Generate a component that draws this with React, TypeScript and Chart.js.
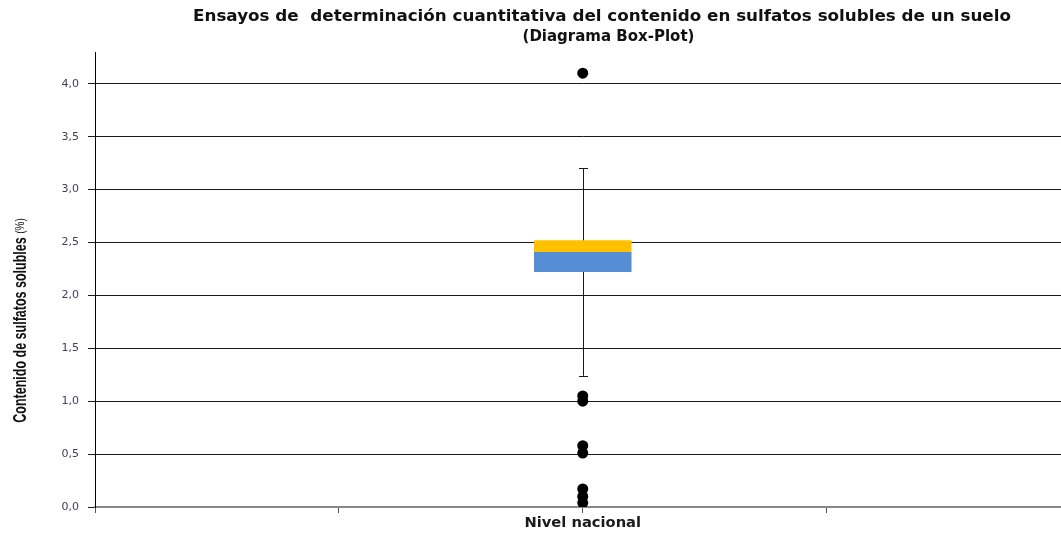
import React, { useEffect, useRef } from "react";
import { Chart, registerables } from "chart.js";

Chart.register(...registerables);

// ---- data ----
const categories = ["", "", "Nivel nacional", "", ""];
const boxCategory = "Nivel nacional";
const q1 = 2.22;
const median = 2.41;
const q3 = 2.52;
const whiskerLow = 1.24;
const whiskerHigh = 3.2;
const outliers = [4.1, 1.05, 1.0, 0.58, 0.51, 0.17, 0.1, 0.04];
const yTicks = [0, 0.5, 1.0, 1.5, 2.0, 2.5, 3.0, 3.5, 4.0];
const yMax = 4.3;

const titleLines = [
  "Ensayos de  determinación cuantitativa del contenido en sulfatos solubles de un suelo",
  "(Diagrama Box-Plot)",
];
const yTitle = "Contenido de sulfatos solubles";
const yUnit = "(%)";

const whiskerPlugin = {
  id: "whiskers",
  beforeDatasetsDraw(chart: any) {
    const xs = chart.scales.x;
    const ys = chart.scales.y;
    const x = Math.round(xs.getPixelForValue(categories.indexOf(boxCategory))) + 0.5;
    const yTop = ys.getPixelForValue(whiskerHigh);
    const yBot = ys.getPixelForValue(whiskerLow);
    const ctx = chart.ctx;
    ctx.save();
    ctx.strokeStyle = "#1a1a1a";
    ctx.lineWidth = 1;
    ctx.beginPath();
    ctx.moveTo(x, yTop);
    ctx.lineTo(x, yBot);
    ctx.moveTo(x - 4.5, Math.round(yTop) + 0.5);
    ctx.lineTo(x + 4.5, Math.round(yTop) + 0.5);
    ctx.moveTo(x - 4.5, Math.round(yBot) + 0.5);
    ctx.lineTo(x + 4.5, Math.round(yBot) + 0.5);
    ctx.stroke();
    ctx.restore();
  },
};

export default function App() {
  const canvasRef = useRef<HTMLCanvasElement | null>(null);

  useEffect(() => {
    if (!canvasRef.current) return;
    const idx = categories.indexOf(boxCategory);
    const lowerBox = categories.map((_, i) => (i === idx ? [q1, median] : null));
    const upperBox = categories.map((_, i) => (i === idx ? [median, q3] : null));
    const chart = new Chart(canvasRef.current, {
      type: "bar",
      data: {
        labels: categories,
        datasets: [
          {
            type: "bar",
            data: lowerBox as any,
            backgroundColor: "#558ED5",
            grouped: false,
            categoryPercentage: 0.4,
            barPercentage: 1,
            order: 2,
          } as any,
          {
            type: "bar",
            data: upperBox as any,
            backgroundColor: "#FFC000",
            grouped: false,
            categoryPercentage: 0.4,
            barPercentage: 1,
            order: 2,
          } as any,
          {
            type: "line",
            data: outliers.map((v) => ({ x: boxCategory, y: v })),
            showLine: false,
            pointRadius: 5.5,
            pointBackgroundColor: "#000",
            pointBorderColor: "#000",
            pointBorderWidth: 0,
            order: 1,
          } as any,
        ],
      },
      options: {
        animation: false,
        responsive: true,
        maintainAspectRatio: false,
        layout: { padding: { top: 52, left: 0, right: 0, bottom: 0 } },
        plugins: {
          legend: { display: false },
          title: { display: false },
          tooltip: { enabled: false },
        },
        scales: {
          x: {
            type: "category",
            labels: categories,
            offset: false,
            afterFit: (s: any) => {
              s.height = 29;
            },
            grid: {
              drawOnChartArea: false,
              offset: false,
              tickLength: 6,
              color: "#555",
            },
            border: { color: "#888", width: 2 },
            ticks: {
              autoSkip: false,
              maxRotation: 0,
              padding: 1,
              color: "#1a1a1a",
              font: { family: "DejaVu Sans", size: 14.7, weight: "bold" },
            },
          },
          y: {
            type: "linear",
            min: 0,
            max: yMax,
            afterBuildTicks: (s: any) => {
              s.ticks = yTicks.map((v) => ({ value: v }));
            },
            afterFit: (s: any) => {
              s.width = 95;
            },
            grid: {
              color: (c: any) =>
                c.tick && c.tick.value === 0 ? "rgba(0,0,0,0)" : "#1a1a1a",
              tickColor: "#1a1a1a",
              tickLength: 7,
              lineWidth: 1,
            },
            border: { color: "#000", width: 1 },
            ticks: {
              padding: 9,
              color: "#404058",
              font: { family: "DejaVu Sans", size: 11 },
              callback: (v: any) => Number(v).toFixed(1).replace(".", ","),
            },
          },
        },
      },
      plugins: [whiskerPlugin],
    });
    return () => chart.destroy();
  }, []);

  return (
    <div
      style={{
        position: "fixed",
        left: 0,
        top: 0,
        width: 1061,
        height: 536,
        background: "#fff",
        overflow: "hidden",
      }}
    >
      <div style={{ position: "absolute", left: 0, top: 0, width: 1076, height: 536 }}>
        <canvas ref={canvasRef} />
      </div>
      <div
        style={{
          position: "absolute",
          left: 101.5,
          top: 7,
          width: 1000,
          textAlign: "center",
          fontFamily: "DejaVu Sans",
          fontWeight: "bold",
          fontSize: 15,
          lineHeight: "19px",
          color: "#111",
          whiteSpace: "pre",
          transform: "scaleX(1.116)",
        }}
      >
        {titleLines[0]}
      </div>
      <div
        style={{
          position: "absolute",
          left: 108.5,
          top: 27,
          width: 1000,
          textAlign: "center",
          fontFamily: "DejaVu Sans",
          fontWeight: "bold",
          fontSize: 15,
          lineHeight: "19px",
          color: "#111",
          whiteSpace: "pre",
        }}
      >
        {titleLines[1]}
      </div>
      <div
        style={{
          position: "absolute",
          left: 20,
          top: 330,
          transform: "translate(-50%, -50%) rotate(-90deg) scaleY(1.4)",
          fontFamily: "Liberation Sans",
          fontWeight: "bold",
          fontSize: 12.5,
          color: "#111",
          whiteSpace: "nowrap",
        }}
      >
        {yTitle}
      </div>
      <div
        style={{
          position: "absolute",
          left: 19,
          top: 226,
          transform: "translate(-50%, -50%) rotate(-90deg) scaleY(1.3)",
          fontFamily: "Liberation Sans",
          fontSize: 10,
          color: "#111",
          whiteSpace: "nowrap",
        }}
      >
        {yUnit}
      </div>
    </div>
  );
}
